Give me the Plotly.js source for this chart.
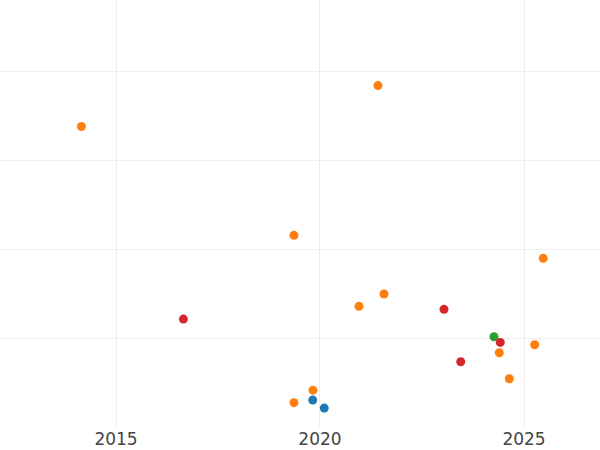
<!DOCTYPE html>
<html>
<head>
<meta charset="utf-8">
<script src="https://cdn.plot.ly/plotly-3.0.1.min.js"></script>
<style>html,body{margin:0;padding:0;background:#fff;}#chart{width:600px;height:450px;}</style>
</head>
<body>
<div id="chart"></div>
<script>
// Orange series
const orangeX = ["2014-02-25","2021-06-03","2019-05-13","2025-06-22","2021-07-27","2020-12-15","2025-04-06","2024-05-24","2024-08-22","2019-10-30","2019-05-13"];
const orangeY = [3.379,3.839,2.157,1.899,1.498,1.360,0.929,0.839,0.547,0.419,0.278];
// Red series
const redX = ["2016-08-26","2023-01-15","2024-06-02","2023-06-14"];
const redY = [1.217,1.326,0.955,0.738];
// Green series
const greenX = ["2024-04-07"];
const greenY = [1.019];
// Blue series
const blueX = ["2019-10-28","2020-02-08"];
const blueY = [0.307,0.217];

function tr(x, y, color){
  return {x:x, y:y, type:"scatter", mode:"markers", marker:{color:color, size:9}, hoverinfo:"skip"};
}
const data = [
  tr(blueX, blueY, "#1f77b4"),
  tr(orangeX, orangeY, "#ff7f0e"),
  tr(greenX, greenY, "#2ca02c"),
  tr(redX, redY, "#d62728")
];
const layout = {
  width:600, height:450,
  margin:{l:0, r:0, t:0, b:23, pad:0},
  paper_bgcolor:"#fff", plot_bgcolor:"#fff",
  showlegend:false,
  font:{family:"DejaVu Sans", size:17, color:"#444"},
  xaxis:{type:"date", range:["2012-02-27","2026-11-12"], dtick:"M60", tick0:"2015-01-01",
         tickformat:"%Y", showgrid:true, gridcolor:"#eeeeee", gridwidth:1, zeroline:false,
         showline:false, ticks:""},
  yaxis:{range:[0.005,4.8], dtick:1, tick0:0, showticklabels:false, showgrid:true,
         gridcolor:"#eeeeee", zeroline:false, showline:false, ticks:""}
};
Plotly.newPlot("chart", data, layout, {displayModeBar:false, staticPlot:true});
</script>
</body>
</html>
